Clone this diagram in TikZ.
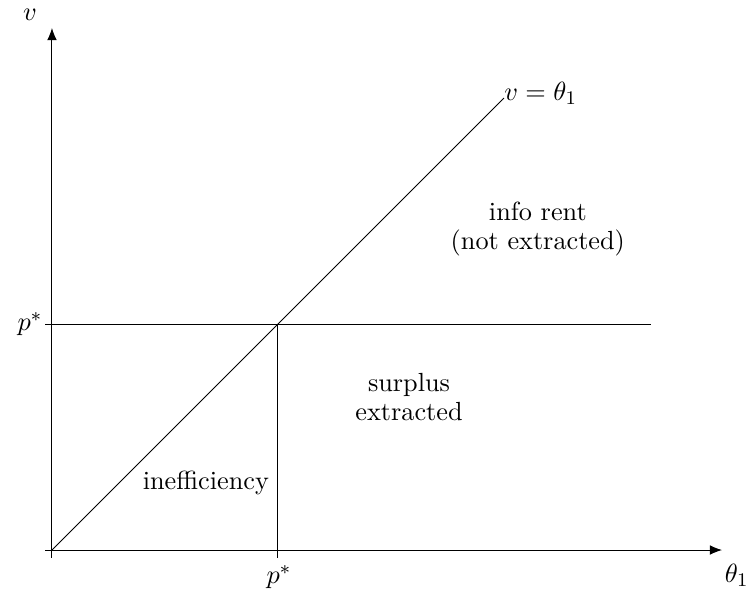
\documentclass[tikz,border=0pt]{standalone}
\usepackage{amsmath, amssymb}
\usepackage{tikz}
\usetikzlibrary{arrows.meta, positioning}

\begin{document}
\begin{tikzpicture}[
    x=3.3cm, y=3.3cm,
    axis/.style={-{Latex[length=5pt, width=4pt]}, line width=0.4pt},
    ln/.style={line width=0.4pt},
    lbl/.style={font=\fontsize{10.9}{12}\selectfont, align=center, inner sep=1pt}
]
\useasboundingbox (-0.230, -0.177) rectangle (3.111, 2.434);

\coordinate (o) at (0, 0);
\coordinate (xs) at (-0.03, 0);
\coordinate (xe) at (2.965, 0);
\coordinate (ys) at (0, -0.035);
\coordinate (ye) at (0, 2.31);
\coordinate (pp) at (1, 1);
\coordinate (pl) at (-0.03, 1);
\coordinate (pr) at (2.65, 1);
\coordinate (pb) at (1, -0.035);
\coordinate (de) at (2.0, 2.0);

\draw[axis] (xs) -- (xe);
\draw[axis] (ys) -- (ye);
\draw[ln] (pl) -- (pr);
\draw[ln] (pp) -- (pb);
\draw[ln] (o) -- (de);

\node[lbl] (vlab) at (-0.097, 2.37) {$v$};
\node[lbl] (thlab) at (3.03, -0.11) {$\theta_1$};
\node[lbl, left=0pt of pl] (pleft) {$p^*$};
\node[lbl] (pbot) at (1.005, -0.12) {$p^*$};
\node[lbl, anchor=west, inner sep=0pt] (diag) at ([yshift=2pt]de) {$v=\theta_1$};
\node[lbl] (rent) at (2.15, 1.42) {info rent\\(not extracted)};
\node[lbl] (surp) at (1.58, 0.677) {surplus\\extracted};
\node[lbl] (ineff) at (0.681, 0.296) {inefficiency};
\end{tikzpicture}
\end{document}
